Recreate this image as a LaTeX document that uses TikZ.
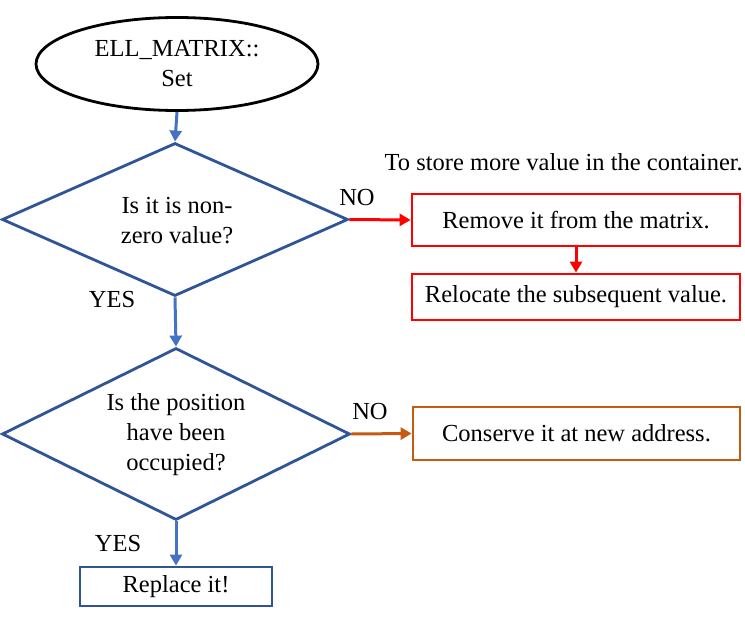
\documentclass[tikz,border=0pt]{standalone}
\usepackage{fontspec}
\setmainfont{Liberation Serif}
\usetikzlibrary{shapes.geometric,arrows.meta}
\definecolor{dblue}{HTML}{2F5597}
\definecolor{lblue}{HTML}{4472C4}
\definecolor{myred}{HTML}{FF0000}
\definecolor{myorange}{HTML}{C55A11}
\tikzset{
  txt/.style={font=\fontsize{24.5}{30}\selectfont, align=center, inner sep=0pt},
  decision/.style={diamond, draw=dblue, line width=2.8pt, inner sep=0pt},
  procbox/.style={rectangle, draw=#1, line width=2.8pt, inner sep=0pt, font=\fontsize{24.5}{30}\selectfont, align=center},
  flow/.style={draw=#1, line width=3pt, -{Triangle[length=11pt,width=12pt]}},
}
\begin{document}
\begin{tikzpicture}[x=1pt,y=-1pt]
\useasboundingbox (0,0) rectangle (745,618);
\node[ellipse, draw=black, line width=2.8pt, minimum width=282pt, minimum height=93pt, inner sep=0pt, txt] (start) at (177,64) {ELL\_MATRIX::\\Set};
\node[decision, minimum width=346pt, minimum height=153pt] (d1) at (175,219.5) {};
\node[txt] (d1t) at (177,221) {Is it is non-\\zero value?};
\node[decision, minimum width=348pt, minimum height=172pt] (d2) at (176,434) {};
\node[txt] (d2t) at (176,435) {Is the position\\have been\\occupied?};
\node[procbox=myred, minimum width=328pt, minimum height=52pt] (rm) at (576,220) {Remove it from the matrix.};
\node[procbox=myred, minimum width=328pt, minimum height=46pt] (rl) at (576,297) {Relocate the subsequent value.};
\node[procbox=myorange, minimum width=327pt, minimum height=53pt] (cs) at (576.5,433.5) {Conserve it at new address.};
\node[procbox=dblue, minimum width=192pt, minimum height=39pt] (rp) at (176,586.5) {Replace it!};
\node[txt, anchor=east] (note) at (743,162) {To store more value in the container.};
\node[txt] (no1) at (357,198) {NO};
\node[txt] (yes1) at (112,300) {YES};
\node[txt] (no2) at (370,412) {NO};
\node[txt] (yes2) at (118,544) {YES};
\draw[flow=lblue] (start.south) -- (d1.north);
\draw[flow=myred] (d1.east) -- (rm.west);
\draw[flow=myred] (rm.south) -- (rl.north);
\draw[flow=lblue] (d1.south) -- (d2.north);
\draw[flow=myorange] (d2.east) -- (cs.west);
\draw[flow=lblue] (d2.south) -- (rp.north);
\end{tikzpicture}
\end{document}
